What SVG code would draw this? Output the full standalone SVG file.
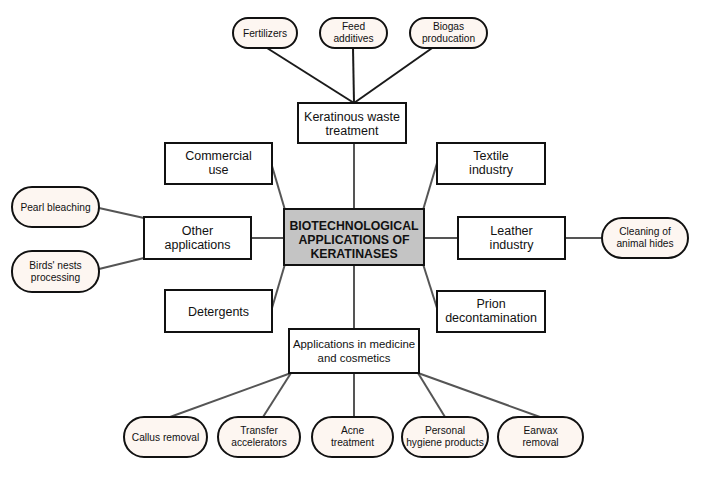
<svg xmlns="http://www.w3.org/2000/svg" width="706" height="479" viewBox="0 0 706 479">
<style>
.box{fill:#fff;stroke:#111;stroke-width:2}
.ctr{fill:#c4c4c4;stroke:#111;stroke-width:2}
.ov{fill:#fdf6f1;stroke:#111;stroke-width:2}
.cn{stroke:#555;stroke-width:2;fill:none}
.cd{stroke:#1a1a1a;stroke-width:2;fill:none}
text{font-family:"Liberation Sans",Arial,sans-serif;fill:#111;text-anchor:middle}
.t{font-size:12.5px}
.s{font-size:10.2px}
.b{font-size:12.3px;font-weight:bold}
</style>
<rect width="706" height="479" fill="#fff"/>
<g id="connectors">
<line class="cd" x1="267" y1="48" x2="354" y2="103"/>
<line class="cd" x1="353" y1="48" x2="354" y2="103"/>
<line class="cd" x1="435" y1="46" x2="354" y2="103"/>
<line class="cn" x1="354" y1="143" x2="354" y2="209"/>
<line class="cn" x1="272" y1="166" x2="285" y2="210"/>
<line class="cn" x1="251" y1="238" x2="284" y2="238"/>
<line class="cn" x1="99" y1="208" x2="144" y2="218"/>
<line class="cn" x1="99" y1="269" x2="144" y2="258"/>
<line class="cn" x1="272" y1="308" x2="285" y2="264"/>
<line class="cn" x1="437" y1="163" x2="423" y2="210"/>
<line class="cn" x1="424" y1="238" x2="458" y2="238"/>
<line class="cn" x1="565" y1="238" x2="602" y2="238"/>
<line class="cn" x1="437" y1="308" x2="423" y2="264"/>
<line class="cn" x1="354" y1="265" x2="354" y2="329"/>
<line class="cn" x1="291" y1="373" x2="170" y2="417"/>
<line class="cn" x1="291" y1="373" x2="263" y2="417"/>
<line class="cn" x1="354" y1="373" x2="354" y2="417"/>
<line class="cn" x1="418" y1="373" x2="445" y2="417"/>
<line class="cn" x1="418" y1="373" x2="540" y2="417"/>
</g>
<g id="fertilizers"><rect class="ov" x="233" y="18" width="64" height="30" rx="15"/><text class="s" x="265" y="36.5">Fertilizers</text></g>
<g id="feed"><rect class="ov" x="320" y="18" width="67" height="30" rx="15"/><text class="s" x="353.5" y="30">Feed</text><text class="s" x="353.5" y="42">additives</text></g>
<g id="biogas"><rect class="ov" x="410" y="18" width="77" height="30" rx="15"/><text class="s" x="448.5" y="30">Biogas</text><text class="s" x="448.5" y="42">producation</text></g>
<g id="keratinous"><rect class="box" x="298" y="103" width="108" height="40"/><text class="t" x="352" y="121">Keratinous waste</text><text class="t" x="352" y="135">treatment</text></g>
<g id="commercial"><rect class="box" x="165" y="143" width="107" height="41"/><text class="t" x="218.5" y="160">Commercial</text><text class="t" x="218.5" y="174">use</text></g>
<g id="textile"><rect class="box" x="437" y="143" width="108" height="41"/><text class="t" x="491" y="160">Textile</text><text class="t" x="491" y="174">industry</text></g>
<g id="pearl"><rect class="ov" x="12" y="187" width="87" height="40" rx="20"/><text class="s" x="55.5" y="211">Pearl bleaching</text></g>
<g id="birds"><rect class="ov" x="12" y="251" width="87" height="41" rx="20"/><text class="s" x="55.5" y="269">Birds' nests</text><text class="s" x="55.5" y="281">processing</text></g>
<g id="other"><rect class="box" x="144" y="217" width="107" height="42"/><text class="t" x="197.5" y="235">Other</text><text class="t" x="197.5" y="249">applications</text></g>
<g id="central"><rect class="ctr" x="284" y="209" width="140" height="56"/><text class="b" x="354" y="230">BIOTECHNOLOGICAL</text><text class="b" x="354" y="244">APPLICATIONS OF</text><text class="b" x="354" y="258">KERATINASES</text></g>
<g id="leather"><rect class="box" x="458" y="217" width="107" height="42"/><text class="t" x="511.5" y="235">Leather</text><text class="t" x="511.5" y="249">industry</text></g>
<g id="cleaning"><rect class="ov" x="602" y="218" width="86" height="40" rx="20"/><text class="s" x="645" y="235">Cleaning of</text><text class="s" x="645" y="247">animal hides</text></g>
<g id="detergents"><rect class="box" x="165" y="290" width="107" height="42"/><text class="t" x="218.5" y="315.5">Detergents</text></g>
<g id="prion"><rect class="box" x="437" y="291" width="108" height="41"/><text class="t" x="491" y="308">Prion</text><text class="t" x="491" y="322">decontamination</text></g>
<g id="medicine"><rect class="box" x="289" y="329" width="130" height="44"/><text class="t" x="354" y="348" style="font-size:11.4px">Applications in medicine</text><text class="t" x="354" y="362" style="font-size:11.4px">and cosmetics</text></g>
<g id="callus"><rect class="ov" x="124" y="417" width="83" height="40" rx="20"/><text class="s" x="165.5" y="441">Callus removal</text></g>
<g id="transfer"><rect class="ov" x="218" y="417" width="82" height="40" rx="20"/><text class="s" x="259" y="434">Transfer</text><text class="s" x="259" y="446">accelerators</text></g>
<g id="acne"><rect class="ov" x="312" y="417" width="81" height="40" rx="20"/><text class="s" x="352.5" y="434">Acne</text><text class="s" x="352.5" y="446">treatment</text></g>
<g id="personal"><rect class="ov" x="402" y="417" width="86" height="40" rx="20"/><text class="s" x="445" y="434">Personal</text><text class="s" x="445" y="446">hygiene products</text></g>
<g id="earwax"><rect class="ov" x="498" y="417" width="85" height="40" rx="20"/><text class="s" x="540.5" y="434">Earwax</text><text class="s" x="540.5" y="446">removal</text></g>
</svg>
